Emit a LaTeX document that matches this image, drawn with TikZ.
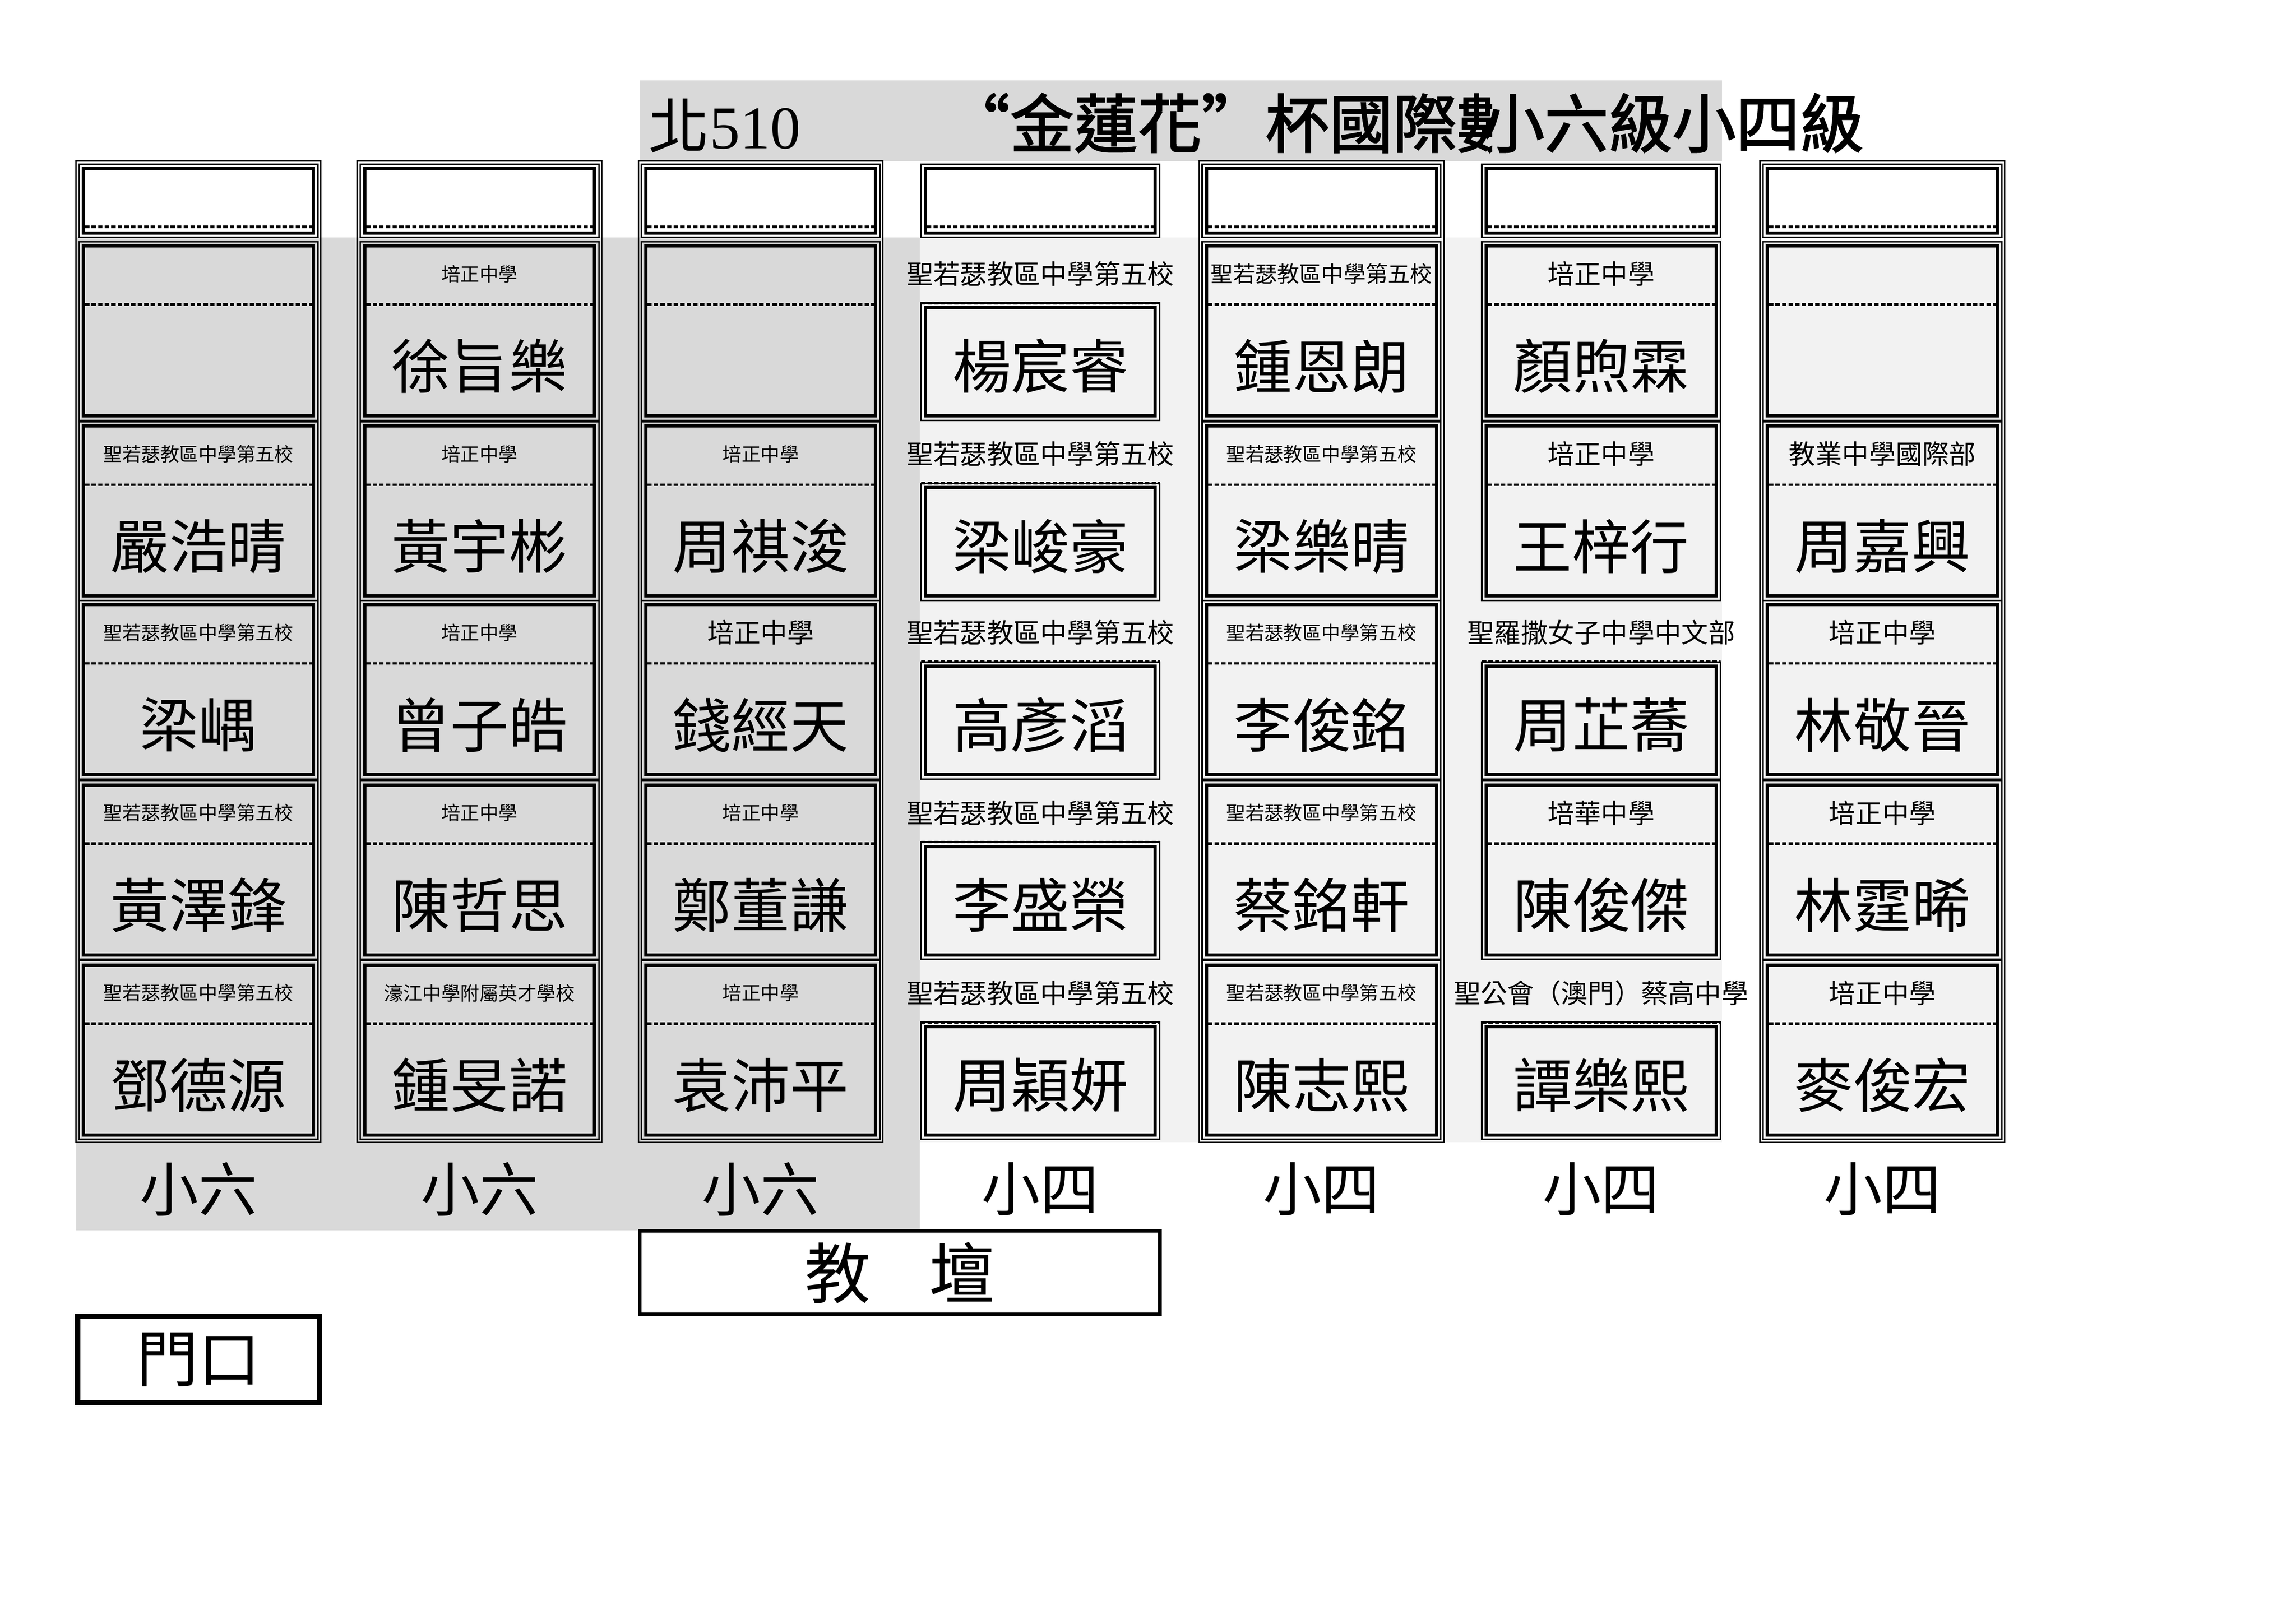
\documentclass[tikz,border=0pt]{standalone}
\usepackage{fontspec}
\setmainfont{Noto Sans CJK TC}[AutoFakeBold=2]
\newfontfamily\lat{Liberation Serif}
\definecolor{dgc}{HTML}{D9D9D9}
\definecolor{lgc}{HTML}{F2F2F2}
\tikzset{thinb/.style={line width=1mm},thickb/.style={line width=2.2mm},
 dashl/.style={line width=1.8mm,dash pattern=on 3mm off 1.5mm},
 smf/.style={font=\fontsize{37}{40}\selectfont},mdf/.style={font=\fontsize{43}{46}\selectfont},
 lgf/.style={font=\fontsize{52}{56}\selectfont},nmf/.style={font=\fontsize{114}{120}\selectfont}}
\newcommand\seat[8]{%
 \ifnum#5=1
  \draw[thinb,fill=#4] (#2+2,#3) rectangle (#2+165,#3+122);
  \draw[thickb] (#2+5,#3+3) rectangle (#2+162,#3+119);
  \draw[dashl] (#2+6,#3+43) -- (#2+161,#3+43);
 \else
  \draw[thinb,fill=#4] (#2+2,#3+42) rectangle (#2+165,#3+122);
  \draw[thickb] (#2+5,#3+45) rectangle (#2+162,#3+119);
  \draw[dashl] (#2+2,#3+42) -- (#2+165,#3+42);
 \fi
 \node[#6] (s#1) at (#2+83.5,#3+22) {#7};
 \node[nmf] (n#1) at (#2+83.5,#3+85) {#8};
}
\begin{document}
\begin{tikzpicture}[x=1mm,y=-1mm]
\useasboundingbox (0,0) rectangle (1568,1108);
\fill[dgc] (437,55) rectangle (1176,110);
\fill[dgc] (52,162) rectangle (628,840);
\fill[lgc] (628,162) rectangle (1176,780);
\node[anchor=west,font=\fontsize{118}{120}\selectfont,inner sep=0pt] (room) at (443,86) {北{\lat 510}};
\begin{scope}
\clip (600,40) rectangle (1019,120);
\node[anchor=west,font=\bfseries\fontsize{124}{125}\selectfont] (t1) at (645,84) {“金蓮花”杯國際數};
\end{scope}
\node[anchor=west,font=\bfseries\fontsize{124}{125}\selectfont] (t2) at (1010,84) {小六級小四級};
% outer column frames and top boxes
\foreach \x/\o in {52/1,244/1,436/1,627/0,819/1,1010/0,1202/1}{
 \ifnum\o=1 \draw[thinb] (\x,110) rectangle (\x+167,780); \fi
 \draw[thinb,fill=white] (\x+2,112) rectangle (\x+165,162);
 \draw[thickb] (\x+5,115) rectangle (\x+162,159);
 \draw[dashl] (\x+6,155) -- (\x+161,155);
}
% col1
\seat{11}{52}{165}{dgc}{1}{smf}{}{}
\seat{12}{52}{288}{dgc}{1}{smf}{聖若瑟教區中學第五校}{嚴浩晴}
\seat{13}{52}{410}{dgc}{1}{smf}{聖若瑟教區中學第五校}{梁嵎}
\seat{14}{52}{533}{dgc}{1}{smf}{聖若瑟教區中學第五校}{黃澤鋒}
\seat{15}{52}{656}{dgc}{1}{smf}{聖若瑟教區中學第五校}{鄧德源}
% col2
\seat{21}{244}{165}{dgc}{1}{smf}{培正中學}{徐旨樂}
\seat{22}{244}{288}{dgc}{1}{smf}{培正中學}{黃宇彬}
\seat{23}{244}{410}{dgc}{1}{smf}{培正中學}{曾子皓}
\seat{24}{244}{533}{dgc}{1}{smf}{培正中學}{陳哲思}
\seat{25}{244}{656}{dgc}{1}{smf}{濠江中學附屬英才學校}{鍾旻諾}
% col3
\seat{31}{436}{165}{dgc}{1}{smf}{}{}
\seat{32}{436}{288}{dgc}{1}{smf}{培正中學}{周祺浚}
\seat{33}{436}{410}{dgc}{1}{lgf}{培正中學}{錢經天}
\seat{34}{436}{533}{dgc}{1}{smf}{培正中學}{鄭董謙}
\seat{35}{436}{656}{dgc}{1}{smf}{培正中學}{袁沛平}
% col4
\seat{41}{627}{165}{lgc}{0}{lgf}{聖若瑟教區中學第五校}{楊宸睿}
\seat{42}{627}{288}{lgc}{0}{lgf}{聖若瑟教區中學第五校}{梁峻豪}
\seat{43}{627}{410}{lgc}{0}{lgf}{聖若瑟教區中學第五校}{高彥滔}
\seat{44}{627}{533}{lgc}{0}{lgf}{聖若瑟教區中學第五校}{李盛榮}
\seat{45}{627}{656}{lgc}{0}{lgf}{聖若瑟教區中學第五校}{周穎妍}
% col5
\seat{51}{819}{165}{lgc}{1}{mdf}{聖若瑟教區中學第五校}{鍾恩朗}
\seat{52}{819}{288}{lgc}{1}{smf}{聖若瑟教區中學第五校}{梁樂晴}
\seat{53}{819}{410}{lgc}{1}{smf}{聖若瑟教區中學第五校}{李俊銘}
\seat{54}{819}{533}{lgc}{1}{smf}{聖若瑟教區中學第五校}{蔡銘軒}
\seat{55}{819}{656}{lgc}{1}{smf}{聖若瑟教區中學第五校}{陳志熙}
% col6
\seat{61}{1010}{165}{lgc}{1}{lgf}{培正中學}{顏煦霖}
\seat{62}{1010}{288}{lgc}{1}{lgf}{培正中學}{王梓行}
\seat{63}{1010}{410}{lgc}{0}{lgf}{聖羅撒女子中學中文部}{周芷蕎}
\seat{64}{1010}{533}{lgc}{1}{lgf}{培華中學}{陳俊傑}
\seat{65}{1010}{656}{lgc}{0}{lgf}{聖公會（澳門）蔡高中學}{譚樂熙}
% col7
\seat{71}{1202}{165}{lgc}{1}{lgf}{}{}
\seat{72}{1202}{288}{lgc}{1}{lgf}{教業中學國際部}{周嘉興}
\seat{73}{1202}{410}{lgc}{1}{lgf}{培正中學}{林敬晉}
\seat{74}{1202}{533}{lgc}{1}{lgf}{培正中學}{林霆晞}
\seat{75}{1202}{656}{lgc}{1}{lgf}{培正中學}{麥俊宏}
% grade labels
\foreach \x/\g [count=\i] in {52/小六,244/小六,436/小六,627/小四,819/小四,1010/小四,1202/小四}
 \node[font=\fontsize{114}{120}\selectfont] (g\i) at (\x+83.5,812) {\g};
\node[draw,line width=2.5mm,minimum width=355mm,minimum height=57mm,font=\fontsize{128}{130}\selectfont] (podium) at (614.5,869) {教\hspace{40mm}壇};
\node[draw,line width=3.5mm,minimum width=165mm,minimum height=59mm,font=\fontsize{120}{125}\selectfont] (door) at (135.5,928.5) {門口};
\end{tikzpicture}
\end{document}
